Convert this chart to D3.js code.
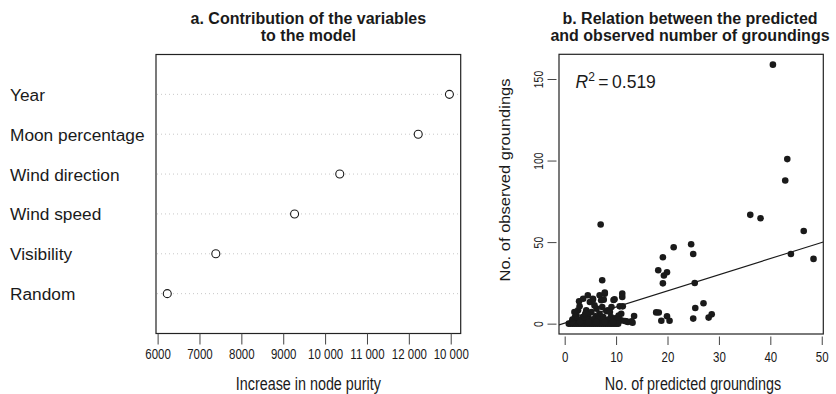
<!DOCTYPE html>
<html>
<head>
<meta charset="utf-8">
<script src="https://cdn.jsdelivr.net/npm/d3@7"></script>
<style>
  html, body { margin: 0; padding: 0; background: #fff; }
  svg { display: block; }
  text { font-family: "Liberation Sans", Arial, Helvetica, sans-serif; fill: #1a1a1a; }
</style>
</head>
<body>
<svg id="chart" width="836" height="394"></svg>
<script>
// ---------- Panel a: variable importance ----------
const variables = ["Year", "Moon percentage", "Wind direction", "Wind speed", "Visibility", "Random"];
const purity = [12969, 12224, 10350, 9271, 7390, 6231];
const purityTicks = [6000, 7000, 8000, 9000, 10000, 11000, 12000, 13000];
const purityTickLabels = ["6000", "7000", "8000", "9000", "10 000", "11 000", "12 000", "10 000"];

// ---------- Panel b: predicted vs observed ----------
const predicted = [
  40.5, 43.3, 42.9, 36.1, 38.1, 46.5, 44.0, 48.4,
  24.6, 25.0, 25.3, 25.4, 27.0, 28.6, 28.0, 25.0,
  21.2, 19.1, 18.2, 19.9, 19.3, 19.1,
  17.8, 18.3, 19.9, 18.8, 20.4,
  7.0, 7.3,
  11.2, 11.2, 9.5, 7.8, 6.8, 4.5, 5.5, 2.8, 4.9, 7.6, 7.3, 9.1, 10.7, 11.3, 8.4, 6.2, 4.2, 2.6, 2.3,
  11.0, 11.0, 12.0, 13.0, 13.5, 12.3, 13.2,
  3.6, 5.5, 7.1, 2.9, 5.8, 1.9, 5.2, 6.8, 8.1, 8.8, 7.8, 9.7, 11.7,
  3.5, 4.5, 6.0, 7.5, 9.0, 10.0, 3.0, 5.0, 8.0, 9.5, 10.5, 2.0, 6.5, 4.0,
  1.5, 2.5, 3.5, 4.5, 5.5, 6.5, 7.5, 8.5, 9.5, 10.2,
  0.8, 1.2, 1.6, 2.0, 2.4, 2.8, 3.2, 3.6, 4.0, 4.4, 4.8, 5.2, 5.6, 6.0, 6.4, 6.8, 7.2, 7.6, 8.0, 8.4, 8.8, 9.2, 9.6, 10.0, 10.4,
  1.4, 3.0, 4.6, 6.2, 7.8, 9.4
];
const observed = [
  158.8, 100.9, 87.8, 66.7, 64.6, 56.8, 42.7, 39.7,
  48.7, 42.7, 24.9, 9.6, 12.5, 5.7, 3.7, 3.1,
  46.8, 40.7, 32.7, 31.5, 29.5, 24.7,
  6.9, 6.8, 4.5, 1.8, 1.8,
  60.8, 26.6,
  18.4, 16.3, 14.5, 18.4, 17.4, 17.4, 14.7, 13.7, 13.3, 14.7, 10.2, 10.2, 10.6, 10.6, 8.2, 9.2, 8.2, 8.2, 5.1,
  6.1, 2.0, 1.4, 1.4, 4.7, 1.0, 0.6,
  15.3, 15.3, 14.3, 10.6, 11.2, 7.1, 7.1, 6.1, 7.7, 7.1, 19.0, 14.9, 1.6,
  4.0, 5.0, 4.0, 4.0, 4.0, 3.5, 2.0, 2.5, 2.0, 2.0, 5.0, 4.0, 3.0, 6.0,
  2.5, 2.5, 2.5, 2.5, 2.5, 2.5, 2.5, 2.5, 2.5, 2.5,
  0, 0, 0, 0, 0, 0, 0, 0, 0, 0, 0, 0, 0, 0, 0, 0, 0, 0, 0, 0, 0, 0, 0, 0, 0,
  1, 1, 1, 1, 1, 1
];
const xTicksB = [0, 10, 20, 30, 40, 50];
const yTicksB = [0, 50, 100, 150];
const fitIntercept = 0.3;
const fitSlope = 0.99;
const rSquared = "0.519";

const svg = d3.select("#chart");

// padding like R's default 4% axis expansion
function padded(ext) {
  const s = ext[1] - ext[0];
  return [ext[0] - 0.04 * s, ext[1] + 0.04 * s];
}
// stretch/condense text along its baseline (the original face is narrower/taller)
function fitText(sel, k) {
  sel.each(function () {
    const w = this.getComputedTextLength();
    d3.select(this).attr("textLength", w * k).attr("lengthAdjust", "spacingAndGlyphs");
  });
  return sel;
}
const NK = 0.82;

// ================= Panel a =================
const A = { left: 156, right: 460.7, top: 54.5, bottom: 333.5 };
const xA = d3.scaleLinear().domain(padded(d3.extent(purity))).range([A.left, A.right]);
const yA = d3.scaleLinear().domain([0, variables.length + 1]).range([A.bottom, A.top]);
const rowVal = i => variables.length - i;

const gA = svg.append("g");
gA.append("text").attr("x", (A.left + A.right) / 2).attr("y", 23.5)
  .attr("text-anchor", "middle").attr("font-weight", "bold").attr("font-size", 16)
  .text("a. Contribution of the variables");
gA.append("text").attr("x", (A.left + A.right) / 2).attr("y", 41)
  .attr("text-anchor", "middle").attr("font-weight", "bold").attr("font-size", 16)
  .text("to the model");

// dotted guide lines
gA.selectAll("line.guide").data(variables).join("line")
  .attr("class", "guide")
  .attr("x1", A.left + 1).attr("x2", A.right - 1)
  .attr("y1", (d, i) => yA(rowVal(i))).attr("y2", (d, i) => yA(rowVal(i)))
  .attr("stroke", "#c8c8c8").attr("stroke-width", 1).attr("stroke-dasharray", "1,3");

// labels
gA.selectAll("text.cat").data(variables).join("text")
  .attr("class", "cat")
  .attr("x", 10).attr("y", (d, i) => yA(rowVal(i)) + 6.5)
  .attr("font-size", 17.3)
  .text(d => d);

// points
gA.selectAll("circle").data(purity).join("circle")
  .attr("cx", d => xA(d)).attr("cy", (d, i) => yA(rowVal(i)))
  .attr("r", 4).attr("fill", "#fff").attr("stroke", "#1a1a1a").attr("stroke-width", 1.1);

// box
gA.append("rect").attr("x", A.left).attr("y", A.top)
  .attr("width", A.right - A.left).attr("height", A.bottom - A.top)
  .attr("fill", "none").attr("stroke", "#222").attr("stroke-width", 1.2);

// x axis
const axA = d3.axisBottom(xA).tickValues(purityTicks)
  .tickFormat((d, i) => purityTickLabels[i]).tickSize(11).tickPadding(5).tickSizeOuter(0);
const gAxA = gA.append("g").attr("transform", `translate(0,${A.bottom})`).call(axA);
gAxA.select(".domain").remove();
gAxA.selectAll("line").attr("stroke", "#444");
gAxA.selectAll("text").attr("font-size", 14).attr("fill", "#1a1a1a").attr("font-family", null);
fitText(gAxA.selectAll("text"), NK);

fitText(gA.append("text").attr("x", (A.left + A.right) / 2).attr("y", 390)
  .attr("text-anchor", "middle").attr("font-size", 17.5).text("Increase in node purity"), NK);

// ================= Panel b =================
const B = { left: 559, right: 823.3, top: 54.3, bottom: 334 };
const xB = d3.scaleLinear().domain(padded(d3.extent(predicted))).range([B.left, B.right]);
const yB = d3.scaleLinear().domain(padded(d3.extent(observed))).range([B.bottom, B.top]);

const gB = svg.append("g");
gB.append("text").attr("x", 690).attr("y", 23.5)
  .attr("text-anchor", "middle").attr("font-weight", "bold").attr("font-size", 16)
  .text("b. Relation between the predicted");
gB.append("text").attr("x", 690).attr("y", 41)
  .attr("text-anchor", "middle").attr("font-weight", "bold").attr("font-size", 16)
  .text("and observed number of groundings");

// clip for the fit line
svg.append("clipPath").attr("id", "clipB").append("rect")
  .attr("x", B.left).attr("y", B.top).attr("width", B.right - B.left).attr("height", B.bottom - B.top);

const pts = predicted.map((p, i) => ({ p, o: observed[i] }));
gB.append("g").selectAll("circle").data(pts).join("circle")
  .attr("cx", d => xB(d.p)).attr("cy", d => yB(d.o))
  .attr("r", 3.3).attr("fill", "#1a1a1a");

const xd = xB.domain();
gB.append("line").attr("clip-path", "url(#clipB)")
  .attr("x1", xB(xd[0])).attr("y1", yB(fitIntercept + fitSlope * xd[0]))
  .attr("x2", xB(xd[1])).attr("y2", yB(fitIntercept + fitSlope * xd[1]))
  .attr("stroke", "#1a1a1a").attr("stroke-width", 1.1);

gB.append("rect").attr("x", B.left).attr("y", B.top)
  .attr("width", B.right - B.left).attr("height", B.bottom - B.top)
  .attr("fill", "none").attr("stroke", "#222").attr("stroke-width", 1.2);

// x axis
const axBx = d3.axisBottom(xB).tickValues(xTicksB).tickSize(8.5).tickPadding(7).tickSizeOuter(0);
const gBx = gB.append("g").attr("transform", `translate(0,${B.bottom + 2.5})`).call(axBx);
gBx.select(".domain").remove();
gBx.selectAll("line").attr("stroke", "#444");
gBx.selectAll("text").attr("font-size", 14).attr("fill", "#1a1a1a").attr("font-family", null);
fitText(gBx.selectAll("text"), NK);

// y axis
const axBy = d3.axisLeft(yB).tickValues(yTicksB).tickSize(9).tickPadding(0).tickSizeOuter(0).tickFormat(d3.format("d"));
const gBy = gB.append("g").attr("transform", `translate(${B.left - 2.5},0)`).call(axBy);
gBy.select(".domain").remove();
gBy.selectAll("line").attr("stroke", "#444");
gBy.selectAll("text").attr("font-size", 13).attr("fill", "#1a1a1a")
  .attr("font-family", null)
  .attr("x", null).attr("dy", null)
  .attr("text-anchor", "middle")
  .attr("transform", "translate(-14,0) rotate(-90)");
fitText(gBy.selectAll("text"), 0.8);

fitText(gB.append("text")
  .attr("transform", "translate(510,180) rotate(-90)")
  .attr("text-anchor", "middle").attr("font-size", 14.5).text("No. of observed groundings"), 1.14);

fitText(gB.append("text").attr("x", 693).attr("y", 390)
  .attr("text-anchor", "middle").attr("font-size", 17.5).text("No. of predicted groundings"), NK);

// R^2 annotation
const r2 = gB.append("text").attr("x", 575.5).attr("y", 87.5).attr("font-size", 17.5);
r2.append("tspan").attr("font-style", "italic").text("R");
r2.append("tspan").attr("dy", -7).attr("font-size", 12).text("2");
r2.append("tspan").attr("dy", 7).text("\u2009=\u2009" + rSquared);
</script>
</body>
</html>
